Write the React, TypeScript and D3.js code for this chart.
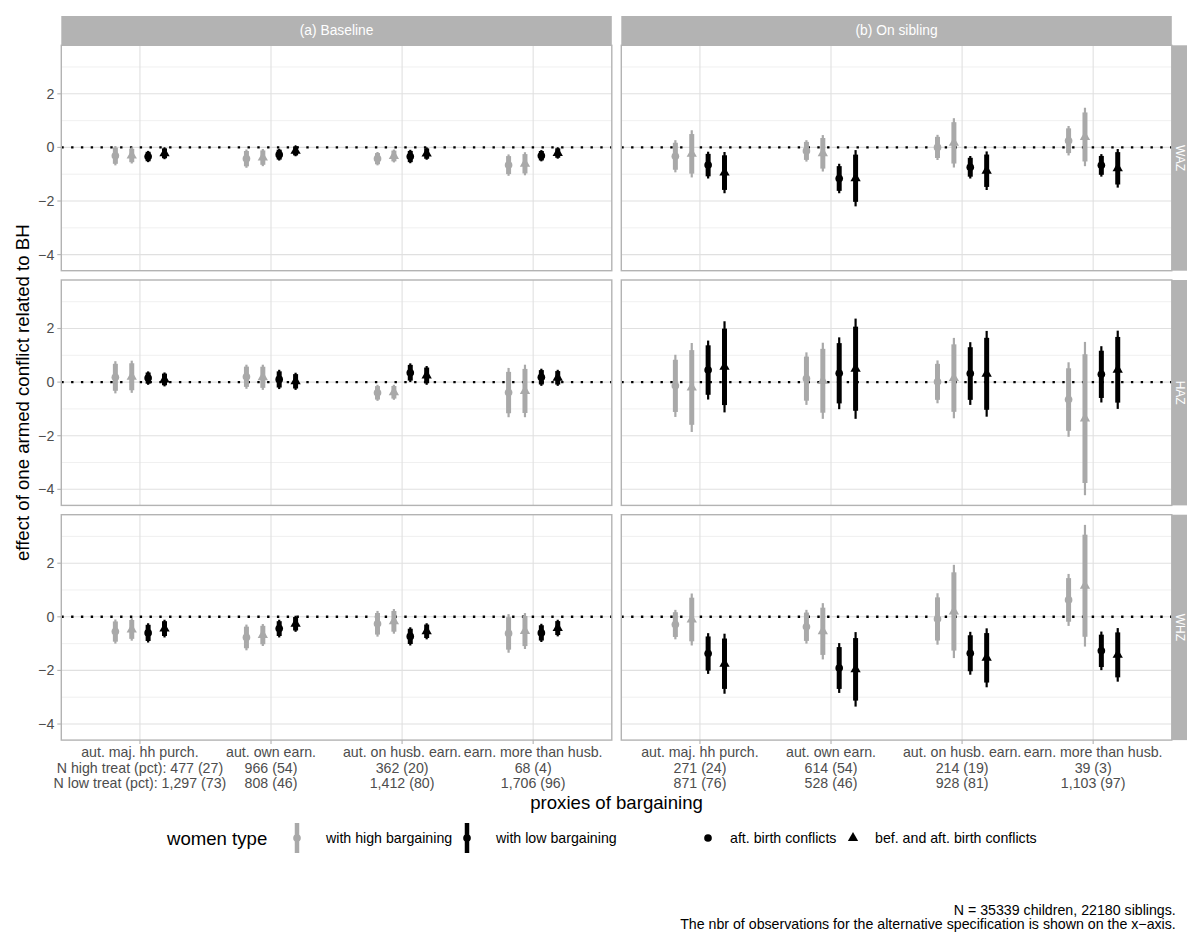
import React from 'react';
import * as d3 from 'd3';

// ---- data ----
const categories = ['aut. maj. hh purch.', 'aut. own earn.', 'aut. on husb. earn.', 'earn. more than husb.'];
const specs = ['(a) Baseline', '(b) On sibling'];
const outcomes = ['WAZ', 'HAZ', 'WHZ'];
// high/low bargaining x aft. birth / bef. and aft. birth conflicts
const seriesKeys = ['high_aft', 'high_both', 'low_aft', 'low_both'];

const nHighBaseline = ['N high treat (pct): 477 (27)', '966 (54)', '362 (20)', '68 (4)'];
const nLowBaseline = ['N low treat (pct): 1,297 (73)', '808 (46)', '1,412 (80)', '1,706 (96)'];
const nHighSibling = ['271 (24)', '614 (54)', '214 (19)', '39 (3)'];
const nLowSibling = ['871 (76)', '528 (46)', '928 (81)', '1,103 (97)'];

// point estimates [category][series]
const wazBaselineEst = [
  [-0.31, -0.30, -0.34, -0.22],
  [-0.42, -0.38, -0.27, -0.13],
  [-0.42, -0.32, -0.34, -0.23],
  [-0.66, -0.61, -0.31, -0.21],
];
// half width of the 95% interval
const wazBaselineCi = [
  [0.36, 0.30, 0.21, 0.22],
  [0.34, 0.32, 0.22, 0.20],
  [0.25, 0.24, 0.25, 0.23],
  [0.40, 0.43, 0.21, 0.21],
];
const wazSiblingEst = [
  [-0.33, -0.24, -0.66, -0.94],
  [-0.13, -0.22, -1.16, -1.15],
  [0.00, 0.17, -0.74, -0.87],
  [0.25, 0.39, -0.67, -0.78],
];
const wazSiblingCi = [
  [0.60, 0.88, 0.50, 0.77],
  [0.40, 0.68, 0.55, 1.05],
  [0.47, 0.92, 0.42, 0.72],
  [0.55, 1.09, 0.42, 0.72],
];
const hazBaselineEst = [
  [0.18, 0.20, 0.15, 0.10],
  [0.20, 0.18, 0.10, 0.03],
  [-0.40, -0.38, 0.35, 0.25],
  [-0.39, -0.33, 0.18, 0.16],
];
const hazBaselineCi = [
  [0.60, 0.60, 0.25, 0.26],
  [0.45, 0.47, 0.36, 0.32],
  [0.30, 0.28, 0.35, 0.35],
  [0.92, 0.98, 0.32, 0.30],
];
const hazSiblingEst = [
  [-0.14, -0.20, 0.45, 0.57],
  [0.13, 0.05, 0.33, 0.50],
  [0.01, 0.15, 0.32, 0.31],
  [-0.65, -1.36, 0.29, 0.46],
];
const hazSiblingCi = [
  [1.16, 1.66, 1.10, 1.70],
  [0.98, 1.42, 1.34, 1.87],
  [0.80, 1.50, 1.17, 1.60],
  [1.39, 2.86, 1.05, 1.46],
];
const whzBaselineEst = [
  [-0.55, -0.47, -0.60, -0.44],
  [-0.77, -0.68, -0.44, -0.26],
  [-0.26, -0.17, -0.73, -0.54],
  [-0.62, -0.53, -0.60, -0.42],
];
const whzBaselineCi = [
  [0.45, 0.42, 0.36, 0.33],
  [0.48, 0.41, 0.33, 0.30],
  [0.48, 0.46, 0.34, 0.30],
  [0.72, 0.67, 0.34, 0.31],
];
const whzSiblingEst = [
  [-0.29, -0.10, -1.37, -1.75],
  [-0.37, -0.54, -1.91, -1.96],
  [-0.08, 0.20, -1.36, -1.53],
  [0.63, 1.16, -1.27, -1.42],
];
const whzSiblingCi = [
  [0.55, 0.97, 0.76, 1.12],
  [0.63, 1.05, 0.93, 1.39],
  [0.96, 1.74, 0.80, 1.10],
  [0.97, 2.27, 0.72, 1.00],
];

const yTicks = [-4, -2, 0, 2];
const yMinor = [-3, -1, 1, 3];
const yDomain: [number, number] = [-4.6, 3.81];

const facetEst = [
  [wazBaselineEst, wazSiblingEst],
  [hazBaselineEst, hazSiblingEst],
  [whzBaselineEst, whzSiblingEst],
];
const facetCi = [
  [wazBaselineCi, wazSiblingCi],
  [hazBaselineCi, hazSiblingCi],
  [whzBaselineCi, whzSiblingCi],
];

// ---- layout ----
const W = 1187;
const H = 932;
const FONT = '"Liberation Sans", Arial, Helvetica, sans-serif';
const GREY = '#A9A9A9';
const panelLefts = [61.3, 621.3];
const panelW = 550.5;
const stripTop = 16;
const stripH = 29.3;
const panelTop = stripTop + stripH;
const panelH = 225.4;
const gap = 9.3;
const Z90 = 1.645 / 1.96;
const TXT = 14.2;
const TITLE = 18.6;

const colorOf = (k: string) => (k.startsWith('high') ? GREY : '#000');
const isTri = (k: string) => k.endsWith('both');

const symbolPath = (k: string) =>
  d3.symbol().type(isTri(k) ? d3.symbolTriangle : d3.symbolCircle).size(46)()!;

const App: React.FC = () => {
  const panels: JSX.Element[] = [];

  outcomes.forEach((outcome, r) => {
    const y0 = panelTop + r * (panelH + gap);
    const y = d3.scaleLinear().domain(yDomain).range([y0 + panelH, y0]);
    specs.forEach((spec, c) => {
      const x0 = panelLefts[c];
      const x = d3.scalePoint<string>().domain(categories).range([x0, x0 + panelW]).padding(0.6);
      const step = x.step();
      const dodge = d3.scaleBand<string>().domain(seriesKeys).range([-step * 0.25, step * 0.25]);
      const est = facetEst[r][c];
      const ci = facetCi[r][c];

      panels.push(
        <g key={`p-${r}-${c}`}>
          <rect x={x0} y={y0} width={panelW} height={panelH} fill="#fff" />
          {yMinor.map((t) => (
            <line key={`mi${t}`} x1={x0} x2={x0 + panelW} y1={y(t)} y2={y(t)} stroke="#E6E6E6" strokeWidth={0.6} />
          ))}
          {yTicks.map((t) => (
            <line key={`ma${t}`} x1={x0} x2={x0 + panelW} y1={y(t)} y2={y(t)} stroke="#E0E0E0" strokeWidth={1.1} />
          ))}
          {categories.map((cat) => (
            <line key={`v${cat}`} x1={x(cat)} x2={x(cat)} y1={y0} y2={y0 + panelH} stroke="#E0E0E0" strokeWidth={1.1} />
          ))}
          <line x1={x0} x2={x0 + panelW} y1={y(0)} y2={y(0)} stroke="#000" strokeWidth={2.4} strokeDasharray="2.4 7.4" />
          {categories.map((cat, i) =>
            seriesKeys.map((k, j) => {
              const cx = x(cat)! + dodge(k)! + dodge.bandwidth() / 2;
              const e = est[i][j];
              const h = ci[i][j];
              const col = colorOf(k);
              return (
                <g key={`m${i}-${j}`}>
                  <line x1={cx} x2={cx} y1={y(e - h)} y2={y(e + h)} stroke={col} strokeWidth={2.2} />
                  <line x1={cx} x2={cx} y1={y(e - h * Z90)} y2={y(e + h * Z90)} stroke={col} strokeWidth={5} />
                  <path d={symbolPath(k)} transform={`translate(${cx},${y(e)})`} fill={col} />
                </g>
              );
            })
          )}
          <rect x={x0} y={y0} width={panelW} height={panelH} fill="none" stroke="#B3B3B3" strokeWidth={1.4} />
          {/* top strip */}
          {r === 0 && (
            <g>
              <rect x={x0} y={stripTop} width={panelW} height={stripH} fill="#B3B3B3" />
              <text x={x0 + panelW / 2} y={stripTop + stripH / 2} dy="0.35em" textAnchor="middle" fill="#fff" fontSize={13.8}>
                {spec}
              </text>
            </g>
          )}
          {/* right strip (clipped by the page edge, text kept inside) */}
          {c === 1 && (
            <g>
              <rect x={x0 + panelW} y={y0} width={stripH} height={panelH} fill="#B3B3B3" />
              <text
                transform={`translate(${W - 7},${y0 + panelH / 2}) rotate(90)`}
                dy="0.35em"
                textAnchor="middle"
                fill="#fff"
                fontSize={12}
              >
                {outcome}
              </text>
            </g>
          )}
          {/* y axis on left column */}
          {c === 0 &&
            yTicks.map((t) => (
              <g key={`yt${t}`}>
                <line x1={x0 - 4} x2={x0} y1={y(t)} y2={y(t)} stroke="#B3B3B3" strokeWidth={1.1} />
                <text x={x0 - 7} y={y(t)} dy="0.35em" textAnchor="end" fill="#4D4D4D" fontSize={TXT}>
                  {t < 0 ? `\u2212${Math.abs(t)}` : `${t}`}
                </text>
              </g>
            ))}
          {/* x axis on bottom row */}
          {r === outcomes.length - 1 &&
            categories.map((cat, i) => {
              const lines =
                c === 0 ? [cat, nHighBaseline[i], nLowBaseline[i]] : [cat, nHighSibling[i], nLowSibling[i]];
              return (
                <g key={`xt${i}`}>
                  <line x1={x(cat)} x2={x(cat)} y1={y0 + panelH} y2={y0 + panelH + 4} stroke="#B3B3B3" strokeWidth={1.1} />
                  {lines.map((l, li) => (
                    <text key={li} x={x(cat)} y={757 + li * 15.6} textAnchor="middle" fill="#4D4D4D" fontSize={TXT}>
                      {l}
                    </text>
                  ))}
                </g>
              );
            })}
        </g>
      );
    });
  });

  const legendY = 838;
  const keyY = d3.scaleLinear().domain([-1, 1]).range([legendY + 15, legendY - 15]);

  return (
    <div style={{ position: 'absolute', left: 0, top: 0 }}>
      <svg width={W} height={H} style={{ display: 'block', fontFamily: FONT }}>
        <rect width={W} height={H} fill="#fff" />
        {panels}
        <text
          transform={`translate(22,${panelTop + (3 * panelH + 2 * gap) / 2}) rotate(-90)`}
          dy="0.35em"
          textAnchor="middle"
          fontSize={TITLE}
          fill="#000"
        >
          effect of one armed conflict related to BH
        </text>
        <text x={(panelLefts[0] + panelLefts[1] + panelW) / 2} y={802} dy="0.35em" textAnchor="middle" fontSize={TITLE}>
          proxies of bargaining
        </text>

        {/* legend */}
        <text x={167} y={legendY} dy="0.35em" fontSize={TITLE}>
          women type
        </text>
        {[
          { k: 'high_aft', x: 297, label: 'with high bargaining' },
          { k: 'low_aft', x: 467, label: 'with low bargaining' },
        ].map((d) => (
          <g key={d.k}>
            <line x1={d.x} x2={d.x} y1={keyY(-1)} y2={keyY(1)} stroke={colorOf(d.k)} strokeWidth={4.5} />
            <path d={symbolPath(d.k)} transform={`translate(${d.x},${legendY})`} fill={colorOf(d.k)} />
            <text x={d.x + 29} y={legendY} dy="0.35em" fontSize={TXT}>
              {d.label}
            </text>
          </g>
        ))}
        {[
          { k: 'low_aft', x: 708, label: 'aft. birth conflicts' },
          { k: 'low_both', x: 853, label: 'bef. and aft. birth conflicts' },
        ].map((d) => (
          <g key={d.k}>
            <path d={symbolPath(d.k)} transform={`translate(${d.x},${legendY})`} fill="#000" />
            <text x={d.x + 22} y={legendY} dy="0.35em" fontSize={TXT}>
              {d.label}
            </text>
          </g>
        ))}

        {/* caption */}
        <text x={panelLefts[1] + panelW + 4} y={915} textAnchor="end" fontSize={TXT}>
          N = 35339 children, 22180 siblings.
        </text>
        <text x={panelLefts[1] + panelW + 4} y={929} textAnchor="end" fontSize={TXT}>
          The nbr of observations for the alternative specification is shown on the x{'\u2212'}axis.
        </text>
      </svg>
    </div>
  );
};

export default App;
